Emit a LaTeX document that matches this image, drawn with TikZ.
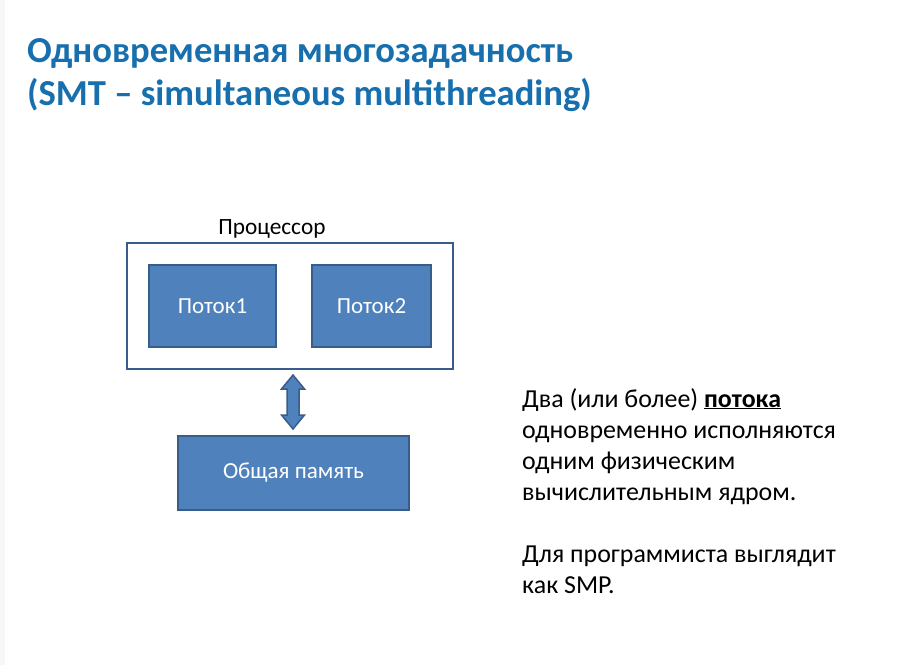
\documentclass[tikz,border=0pt]{standalone}
\usepackage{fontspec}
\setmainfont{Carlito}
\definecolor{titleblue}{RGB}{23,111,174}
\definecolor{boxfill}{RGB}{79,129,189}
\definecolor{boxline}{RGB}{56,93,138}
\begin{document}
\begin{tikzpicture}[x=1pt,y=-1pt,
  titletext/.style={anchor=base west,inner sep=0pt,text=titleblue,
    font=\fontsize{36.6}{41}\selectfont\bfseries},
  outerbox/.style={draw=boxline,line width=2pt,fill=white},
  threadbox/.style={draw=boxline,line width=2pt,fill=boxfill,text=white,
    font=\fontsize{23}{26}\selectfont,inner sep=0pt},
  linkarrow/.style={draw=boxline,line width=1.5pt,fill=boxfill,line join=miter},
  bodytext/.style={anchor=base west,inner sep=0pt,font=\fontsize{25.9}{30}\selectfont}]
  \useasboundingbox (0,0) rectangle (917,665);
  \fill[white] (0,0) rectangle (917,665);
  % faint strip on the left edge
  \fill[black!3] (0,0) rectangle (5,665);

  % heading
  \node[titletext] (t1) at (27,62) {Одновременная многозадачность};
  \node[titletext] (t2) at (27,105) {(SMT – simultaneous multithreading)};

  % processor with two threads
  \node[anchor=base,inner sep=0pt,font=\fontsize{23.3}{26}\selectfont] (plabel) at (272,234) {Процессор};
  \draw[outerbox] (127,243) rectangle (453,369);
  \node[threadbox,minimum width=127pt,minimum height=82pt] (th1) at (212.5,306) {Поток1};
  \node[threadbox,minimum width=119pt,minimum height=82pt] (th2) at (371.5,306) {Поток2};

  % shared memory
  \node[threadbox,minimum width=231pt,minimum height=74pt] (mem) at (293.5,473) {Общая память};

  % two-way block arrow between processor and memory
  \draw[linkarrow] (293,375) -- (304.5,389) -- (299,389) -- (299,415)
    -- (304.5,415) -- (293,429) -- (281.5,415) -- (287,415) -- (287,389)
    -- (281.5,389) -- cycle;

  % explanatory text
  \node[bodytext] (l1) at (522,407) {Два (или более) \underline{\textbf{потока}}};
  \node[bodytext] (l2) at (522,438) {одновременно исполняются};
  \node[bodytext] (l3) at (522,469) {одним физическим};
  \node[bodytext] (l4) at (522,500) {вычислительным ядром.};
  \node[bodytext] (l5) at (522,562) {Для программиста выглядит};
  \node[bodytext] (l6) at (522,593) {как SMP.};
\end{tikzpicture}
\end{document}
